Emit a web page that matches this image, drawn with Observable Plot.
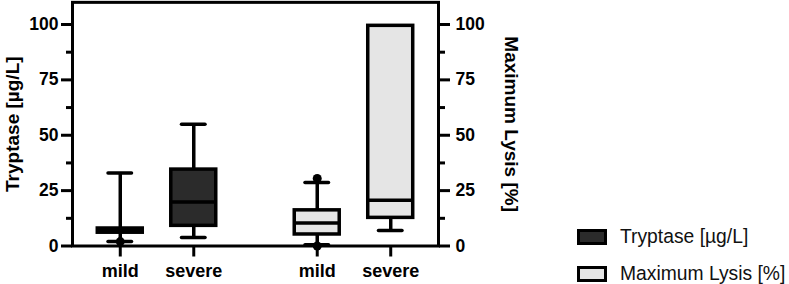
<!DOCTYPE html>
<html>
<head>
<meta charset="utf-8">
<script src="https://cdn.jsdelivr.net/npm/d3@7"></script>
<script src="https://cdn.jsdelivr.net/npm/@observablehq/plot@0.6"></script>
<style>
  html, body { margin: 0; padding: 0; background: #fff; }
  #wrap { position: relative; width: 789px; height: 284px; overflow: hidden; font-family: "Liberation Sans", Arial, sans-serif; }
  #chart { position: absolute; left: 0; top: 0; }
  .row { position: absolute; left: 577px; height: 20px; display: flex; align-items: center; font-size: 19.3px; color: #111; white-space: nowrap; }
  .sw { box-sizing: content-box; width: 24px; height: 10px; border: 3px solid #000; margin-right: 13px; }
</style>
</head>
<body>
<div id="wrap"><div id="chart"></div></div>
<script>
// ---- data ----
const groups = ["Tryptase [µg/L]", "Maximum Lysis [%]"];
const severities = ["mild", "severe"];
const groupFill = ["#2b2b2b", "#e5e5e5"];
// box statistics, order: Tryptase mild, Tryptase severe, Lysis mild, Lysis severe
const statMin    = [2,   3.8, 0.6, 7];
const statQ1     = [6,   9.1, 5.2, 12.7];
const statMedian = [7,   19.9, 10.4, 20.7];
const statQ3     = [7.9, 34.5, 16.1, 99.4];
const statMax    = [33,  55,  28.7, 99.4];
// individual points shown (box index, value)
const pointBox   = [0, 2, 2];
const pointValue = [2, 30.5, 0];
const yTicks = [0, 25, 50, 75, 100];
const yMinorTicks = [12.5, 37.5, 62.5, 87.5];

// ---- layout helpers (category units) ----
const groupOffset = 2.68;   // distance between group start positions
const boxHalf = 0.306;
const capHalf = 0.16;

const boxes = [];
groups.forEach((g, gi) => severities.forEach((s, si) => {
  const i = gi * severities.length + si;
  boxes.push({
    group: g, severity: s, gi,
    pos: gi * groupOffset + si,
    min: statMin[i], q1: statQ1[i], median: statMedian[i], q3: statQ3[i], max: statMax[i]
  });
}));
const points = pointBox.map((b, i) => ({pos: boxes[b].pos, value: pointValue[i]}));
const xTickPos = boxes.map(d => d.pos);
const xTickLabel = new Map(boxes.map(d => [d.pos, d.severity]));

const sw = 3.5;
const chart = Plot.plot({
  width: 540,
  height: 284,
  marginLeft: 72,
  marginRight: 102,
  marginTop: 1.85,
  marginBottom: 38.5,
  style: {fontFamily: "'Liberation Sans', Arial, sans-serif", fontWeight: "bold", fontSize: "17px", color: "#000", background: "transparent", overflow: "visible"},
  x: {type: "linear", domain: [-0.65, 4.33]},
  y: {domain: [0, 110]},
  marks: [
    // whiskers
    Plot.ruleX(boxes, {x: "pos", y1: "min", y2: "q1", stroke: "#000", strokeWidth: sw}),
    Plot.ruleX(boxes, {x: "pos", y1: "q3", y2: "max", stroke: "#000", strokeWidth: sw}),
    Plot.ruleY(boxes, {y: "min", x1: d => d.pos - capHalf, x2: d => d.pos + capHalf, stroke: "#000", strokeWidth: sw, strokeLinecap: "round"}),
    Plot.ruleY(boxes, {y: "max", x1: d => d.pos - capHalf, x2: d => d.pos + capHalf, stroke: "#000", strokeWidth: sw, strokeLinecap: "round"}),
    // boxes
    Plot.rect(boxes, {x1: d => d.pos - boxHalf, x2: d => d.pos + boxHalf, y1: "q1", y2: "q3", fill: d => groupFill[d.gi], stroke: "#000", strokeWidth: sw}),
    Plot.ruleY(boxes, {y: "median", x1: d => d.pos - boxHalf, x2: d => d.pos + boxHalf, stroke: "#000", strokeWidth: sw}),
    // points
    Plot.dot(points, {x: "pos", y: "value", r: 4.5, fill: "#000", stroke: "none"}),
    // frame
    Plot.frame({stroke: "#000", strokeWidth: 3}),
    // axes
    Plot.axisY({anchor: "left", ticks: yTicks, tickSize: 11, tickPadding: 3, strokeWidth: 3, fontSize: 17.5, label: null}),
    Plot.axisY({anchor: "left", ticks: yMinorTicks, tickSize: 6, strokeWidth: 3, tickFormat: () => "", label: null}),
    Plot.axisY({anchor: "right", ticks: yTicks, tickSize: 11, tickPadding: 6, strokeWidth: 3, fontSize: 17.5, label: null}),
    Plot.axisY({anchor: "right", ticks: yMinorTicks, tickSize: 6, strokeWidth: 3, tickFormat: () => "", label: null}),
    Plot.axisX({anchor: "bottom", ticks: xTickPos, tickSize: 11, tickPadding: 7, strokeWidth: 3, fontSize: 18, tickFormat: d => xTickLabel.get(d), label: null}),
    // axis titles
    Plot.text([groups[0]], {text: d => d, frameAnchor: "left", textAnchor: "middle", lineAnchor: "middle", rotate: -90, dx: -59.5, fontSize: 19, fontWeight: "bold", fill: "#000"}),
    Plot.text([groups[1]], {text: d => d, frameAnchor: "right", textAnchor: "middle", lineAnchor: "middle", rotate: 90, dx: 73, fontSize: 19, fontWeight: "bold", fill: "#000"})
  ]
});
document.getElementById("chart").appendChild(chart);

// legend
const wrap = document.getElementById("wrap");
const rowTops = [227, 264];
groups.forEach((g, i) => {
  const row = document.createElement("div");
  row.className = "row";
  row.style.top = rowTops[i] + "px";
  const s = document.createElement("span");
  s.className = "sw";
  s.style.background = groupFill[i];
  const t = document.createElement("span");
  t.textContent = g;
  row.appendChild(s);
  row.appendChild(t);
  wrap.appendChild(row);
});
</script>
</body>
</html>
